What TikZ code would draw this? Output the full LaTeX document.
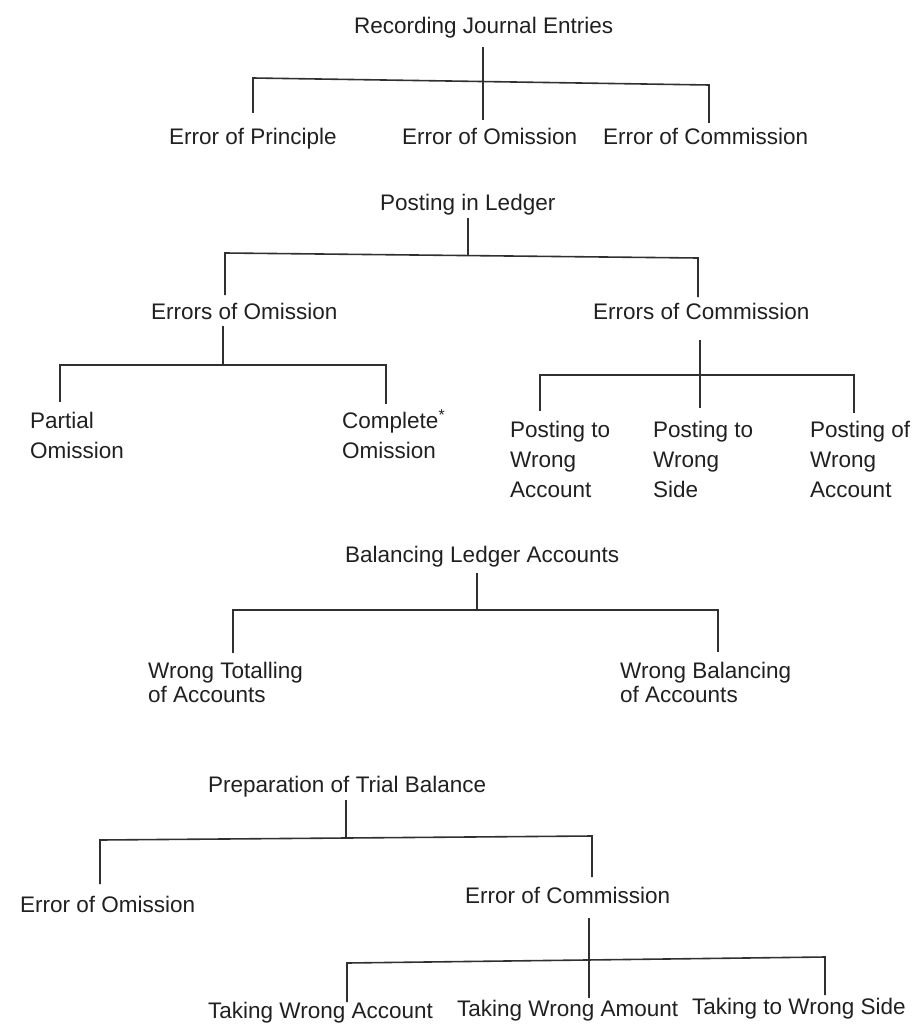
\documentclass[tikz,border=0pt]{standalone}
\usepackage{fontspec}
\setmainfont{Liberation Sans}
\definecolor{ink}{HTML}{202020}
\definecolor{wire}{HTML}{303030}
\begin{document}
\begin{tikzpicture}[x=1pt,y=-1pt,
  lbl/.style={inner sep=0pt, anchor=base west, text=ink, font=\fontsize{22.5}{30}\selectfont},
  ttl/.style={lbl},
  tight/.style={lbl, font=\fontsize{22.5}{24}\selectfont},
  stack/.style={lbl, align=left},
  conn/.style={draw=wire, line width=1.6pt}]
\useasboundingbox (0,0) rectangle (917,1027);

% ---------- Recording Journal Entries ----------
\node[ttl] (rje) at (354,34) {Recording Journal Entries};
\node[lbl] (ep) at (169,145) {Error of Principle};
\node[lbl] (eo) at (402,145) {Error of Omission};
\node[lbl] (ec) at (603,145) {Error of Commission};
\coordinate (rje-out) at (483,47);
\coordinate (ep-top) at (253,78);
\coordinate (ep-in) at (253,113);
\coordinate (eo-in) at (483,120);
\coordinate (ec-top) at (709,85);
\coordinate (ec-in) at (709,123);
\draw[conn] (rje-out) -- (eo-in);
\draw[conn] (ep-in) -- (ep-top) -- (ec-top) -- (ec-in);

% ---------- Posting in Ledger ----------
\node[ttl] (pil) at (380,210) {Posting in Ledger};
\node[lbl] (eom) at (151,319) {Errors of Omission};
\node[lbl] (ecm) at (593,319) {Errors of Commission};
\coordinate (pil-out) at (468,218);
\coordinate (pil-bar) at (468,255);
\coordinate (eom-top) at (225,253);
\coordinate (eom-in) at (225,295);
\coordinate (ecm-top) at (698,258);
\coordinate (ecm-in) at (698,297);
\draw[conn] (pil-out) -- (pil-bar);
\draw[conn] (eom-in) -- (eom-top) -- (ecm-top) -- (ecm-in);

% omission subtree (base = last line)
\node[stack] (pa) at (30,458) {Partial\\Omission};
\node[stack] (co) at (342,458) {Complete\textsuperscript{*}\\Omission};
\coordinate (eom-out) at (223,326);
\coordinate (eom-bar) at (223,365);
\coordinate (pa-top) at (60,365);
\coordinate (pa-in) at (60,402);
\coordinate (co-top) at (386,365);
\coordinate (co-in) at (386,404);
\draw[conn] (eom-out) -- (eom-bar);
\draw[conn] (pa-in) -- (pa-top) -- (co-top) -- (co-in);

% commission subtree
\node[stack] (pw1) at (510,497) {Posting to\\Wrong\\Account};
\node[stack] (pw2) at (653,497) {Posting to\\Wrong\\Side};
\node[stack] (pw3) at (810,497) {Posting of\\Wrong\\Account};
\coordinate (ecm-out) at (700,340);
\coordinate (pw2-in) at (700,408);
\coordinate (pw1-top) at (540,375);
\coordinate (pw1-in) at (540,411);
\coordinate (pw3-top) at (854,375);
\coordinate (pw3-in) at (854,413);
\draw[conn] (ecm-out) -- (pw2-in);
\draw[conn] (pw1-in) -- (pw1-top) -- (pw3-top) -- (pw3-in);

% ---------- Balancing Ledger Accounts ----------
\node[ttl] (bla) at (345,562) {Balancing Ledger Accounts};
\node[tight, align=left] (wt) at (148,702) {Wrong Totalling\\of Accounts};
\node[tight, align=left] (wb) at (620,702) {Wrong Balancing\\of Accounts};
\coordinate (bla-out) at (477,573);
\coordinate (bla-bar) at (477,610);
\coordinate (wt-top) at (233,610);
\coordinate (wt-in) at (233,653);
\coordinate (wb-top) at (718,610);
\coordinate (wb-in) at (718,652);
\draw[conn] (bla-out) -- (bla-bar);
\draw[conn] (wt-in) -- (wt-top) -- (wb-top) -- (wb-in);

% ---------- Preparation of Trial Balance ----------
\node[ttl] (ptb) at (208,792) {Preparation of Trial Balance};
\node[lbl] (teo) at (20,912) {Error of Omission};
\node[lbl] (tec) at (465,903) {Error of Commission};
\coordinate (ptb-out) at (346,800);
\coordinate (ptb-bar) at (346,839);
\coordinate (teo-top) at (100,840);
\coordinate (teo-in) at (100,884);
\coordinate (tec-top) at (592,836);
\coordinate (tec-in) at (592,877);
\draw[conn] (ptb-out) -- (ptb-bar);
\draw[conn] (teo-in) -- (teo-top) -- (tec-top) -- (tec-in);

\node[lbl] (twa) at (208,1018) {Taking Wrong Account};
\node[lbl] (twm) at (457,1016) {Taking Wrong Amount};
\node[lbl] (tws) at (692,1014) {Taking to Wrong Side};
\coordinate (tec-out) at (589,918);
\coordinate (twm-in) at (589,998);
\coordinate (twa-top) at (347,963);
\coordinate (twa-in) at (347,1002);
\coordinate (tws-top) at (825,957);
\coordinate (tws-in) at (825,995);
\draw[conn] (tec-out) -- (twm-in);
\draw[conn] (twa-in) -- (twa-top) -- (tws-top) -- (tws-in);
\end{tikzpicture}
\end{document}
